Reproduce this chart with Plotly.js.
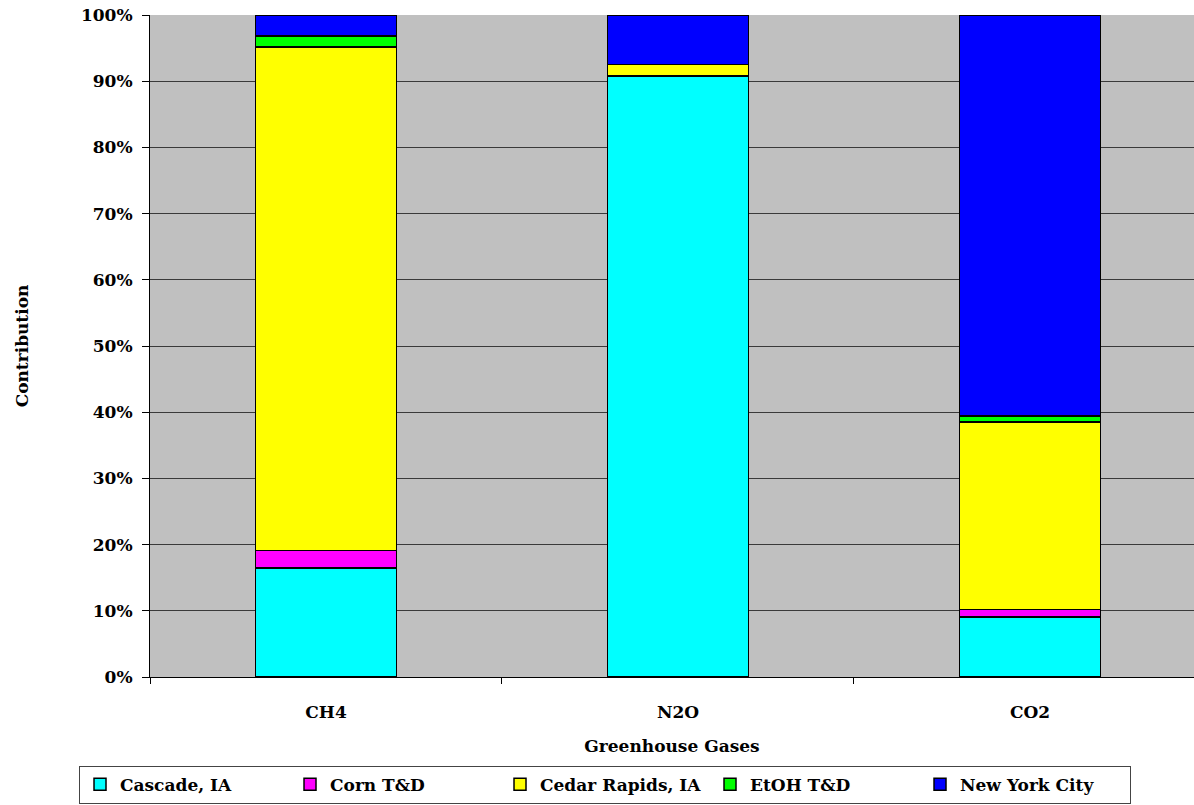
<!DOCTYPE html>
<html>
<head>
<meta charset="utf-8">
<script src="https://cdn.plot.ly/plotly-3.0.1.min.js"></script>
<style>
html,body{margin:0;padding:0;background:#fff;}
#chart{width:1194px;height:805px;}
</style>
</head>
<body>
<div id="chart"></div>
<script>
const categories = ["CH4", "N2O", "CO2"];
const seriesNames = ["Cascade, IA", "Corn T&D", "Cedar Rapids, IA", "EtOH T&D", "New York City"];
const cascade = [16.5, 90.7, 9.1];
const cornTD = [2.6, 0.1, 1.1];
const cedarRapids = [76.1, 1.7, 28.3];
const etohTD = [1.6, 0.05, 0.9];
const newYorkCity = [3.2, 7.45, 60.6];
const colors = ["#00FFFF", "#FF00FF", "#FFFF00", "#00FF00", "#0000FF"];
const yTickVals = [0,10,20,30,40,50,60,70,80,90,100];

const seriesValues = [cascade, cornTD, cedarRapids, etohTD, newYorkCity];
const FF = "DejaVu Serif, serif";
const FS = 17;

const traces = seriesValues.map((vals, i) => ({
  type: "bar",
  name: seriesNames[i],
  x: categories,
  y: vals,
  width: 0.4,
  marker: {color: colors[i], line: {color: "#000", width: 1.5}},
  hoverinfo: "name+y"
}));

const layout = {
  width: 1194,
  height: 805,
  barmode: "stack",
  paper_bgcolor: "#fff",
  plot_bgcolor: "#C0C0C0",
  font: {family: FF, size: FS, color: "#000"},
  margin: {l: 150, r: 0, t: 15, b: 128},
  showlegend: true,
  xaxis: {
    type: "category",
    range: [-0.5, 2.466],
    tickson: "boundaries",
    ticks: "outside",
    ticklen: 6,
    tickcolor: "#000",
    showgrid: false,
    showline: true,
    linecolor: "#000",
    linewidth: 1,
    automargin: false,
    ticklabelstandoff: 20,
    tickfont: {family: FF, size: FS, weight: "bold"},
    title: {text: "<b>Greenhouse Gases</b>", font: {family: FF, size: FS}, standoff: 18}
  },
  yaxis: {
    range: [0, 100],
    tickvals: yTickVals,
    ticktext: yTickVals.map(v => "<b>" + v + "%</b>"),
    ticks: "outside",
    ticklen: 7,
    tickcolor: "#000",
    showgrid: true,
    gridcolor: "#3a3a3a",
    gridwidth: 1,
    showline: true,
    linecolor: "#000",
    linewidth: 1,
    zeroline: false,
    automargin: false,
    ticklabelstandoff: 6,
    tickfont: {family: FF, size: FS},
    title: {text: "<b>Contribution</b>", font: {family: FF, size: FS}, standoff: 48}
  },
  legend: {
    orientation: "h",
    x: -0.068,
    xanchor: "left",
    y: -0.1915,
    yanchor: "bottom",
    bgcolor: "#fff",
    bordercolor: "#444",
    borderwidth: 1,
    traceorder: "normal",
    itemwidth: 30,
    entrywidth: 165,
    entrywidthmode: "pixels",
    font: {family: FF, size: FS, weight: "bold"}
  }
};

Plotly.newPlot("chart", traces, layout, {displayModeBar: false, staticPlot: true});
</script>
</body>
</html>
